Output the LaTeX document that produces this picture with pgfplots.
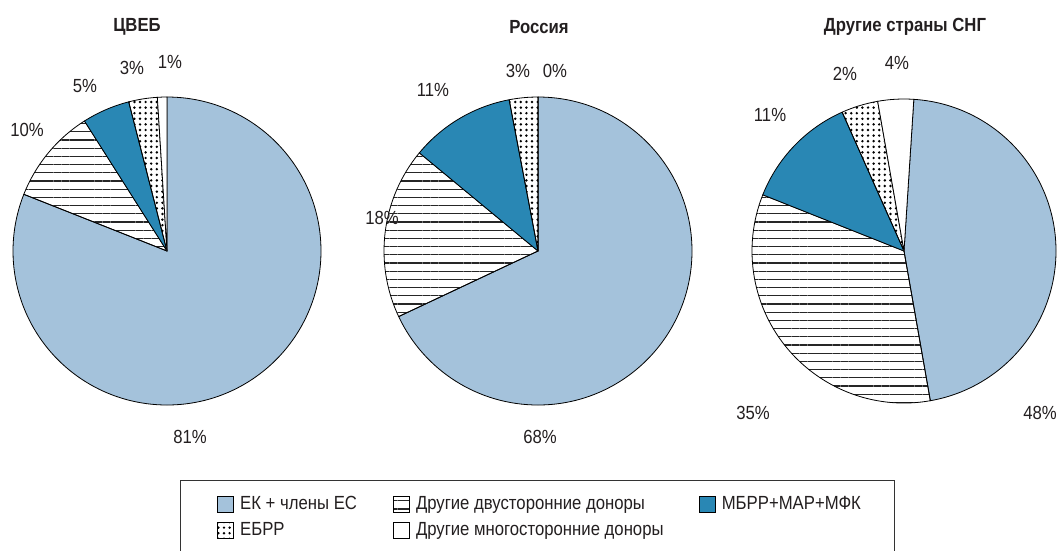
\documentclass[border=0pt]{standalone}
\usepackage{pgfplots}
\usepackage{pgfplotstable}
\pgfplotsset{compat=1.18}
\usetikzlibrary{patterns.meta}
\usepackage{fontspec}
\setmainfont{Liberation Sans}[FakeStretch=0.88]

\definecolor{euc}{RGB}{164,194,219}
\definecolor{wbc}{RGB}{41,135,180}
\definecolor{txt}{RGB}{35,31,32}

\tikzset{
  eu/.style={fill=euc},
  bil/.style={pattern={Lines[angle=0,distance=8.2pt,line width=1.2pt]}, pattern color=black!85},
  wb/.style={fill=wbc},
  ebrd/.style={pattern={Dots[distance=5.6pt,radius=1.35pt]}, pattern color=black},
  mult/.style={fill=white},
}

% shares (%) per region, clockwise from the start angle
\pgfplotstableread{
v s
81 eu
10 bil
5 wb
3 ebrd
1 mult
}\tabA
\pgfplotstableread{
v s
68 eu
18 bil
11 wb
3 ebrd
0 mult
}\tabB
\pgfplotstableread{
v s
46.2 eu
33.8 bil
12.3 wb
3.9 ebrd
3.8 mult
}\tabC

\newcommand\drawpie[3]{% table, radius, start angle
  \pgfplotstablegetrowsof{#1}\pgfmathtruncatemacro\lastrow{\pgfplotsretval-1}%
  \edef\cum{#3}%
  \pgfplotsforeachungrouped \i in {0,...,\lastrow}{%
    \pgfplotstablegetelem{\i}{v}\of{#1}\let\val\pgfplotsretval
    \pgfplotstablegetelem{\i}{s}\of{#1}\let\sty\pgfplotsretval
    \pgfmathsetmacro\endang{\cum-3.6*\val}%
    \edef\tmp{\noexpand\filldraw[\sty,draw=black,line width=0.8pt,line join=round] (axis cs:0,0) -- (axis cs:{#2*cos(\cum)},{#2*sin(\cum)}) arc[start angle=\cum,end angle=\endang,radius=#2pt] -- cycle;}%
    \tmp
    \let\cum\endang
  }%
}

\pgfplotsset{pieax/.style={hide axis, x=1pt, y=1pt, xmin=-150, xmax=150, ymin=-150, ymax=150,
  clip=false, anchor=origin}}

\begin{document}
\fontsize{19}{22}\selectfont
\begin{tikzpicture}[every node/.style={text=txt}]
\useasboundingbox (0,0) rectangle (1059pt,-550pt);

\begin{axis}[pieax, at={(167pt,-251pt)}]
  \drawpie{\tabA}{154}{90}
  \node[font=\bfseries] at (axis cs:-30,224) {ЦВЕБ};
  \node at (axis cs:23,-186) {81\%};
  \node at (axis cs:-140,121) {10\%};
  \node at (axis cs:-82,165) {5\%};
  \node at (axis cs:-35,183) {3\%};
  \node at (axis cs:3,189) {1\%};
\end{axis}

\begin{axis}[pieax, at={(538pt,-251pt)},
  legend columns=3,
  legend image code/.code={\draw[#1,draw=black,line width=0.8pt] (0pt,-8pt) rectangle (16pt,8pt); \path (22pt,0pt);},
  legend style={at={(-0.69333,-0.26333)}, anchor=north west, draw=black!80, line width=0.8pt,
    inner xsep=37pt, inner ysep=16pt, column sep=0pt, row sep=9pt,
    nodes={inner sep=0pt, text height=13pt, text depth=3pt, anchor=west, text=txt}},
  legend cell align=left]
  \drawpie{\tabB}{154}{90}
  \node[font=\bfseries] at (axis cs:1,224) {Россия};
  \node at (axis cs:2,-186) {68\%};
  \node at (axis cs:-156,33) {18\%};
  \node at (axis cs:-105,161) {11\%};
  \node at (axis cs:-20,180) {3\%};
  \node at (axis cs:17,180) {0\%};
  \addlegendimage{eu}
  \addlegendimage{bil}
  \addlegendimage{wb}
  \addlegendimage{ebrd}
  \addlegendimage{mult}
  \legend{\makebox[153pt][l]{ЕК + члены ЕС},
          \makebox[283pt][l]{Другие двусторонние доноры},
          \makebox[136pt][l]{МБРР+МАР+МФК},
          \makebox[153pt][l]{ЕБРР},
          \makebox[283pt][l]{Другие многосторонние доноры}}
\end{axis}

\begin{axis}[pieax, at={(904pt,-251pt)}]
  \drawpie{\tabC}{152}{86.3}
  \node[font=\bfseries] at (axis cs:1,224) {Другие страны СНГ};
  \node at (axis cs:136,-162) {48\%};
  \node at (axis cs:-151,-162) {35\%};
  \node at (axis cs:-134,136) {11\%};
  \node at (axis cs:-59,177) {2\%};
  \node at (axis cs:-7,188) {4\%};
\end{axis}
\end{tikzpicture}
\end{document}
